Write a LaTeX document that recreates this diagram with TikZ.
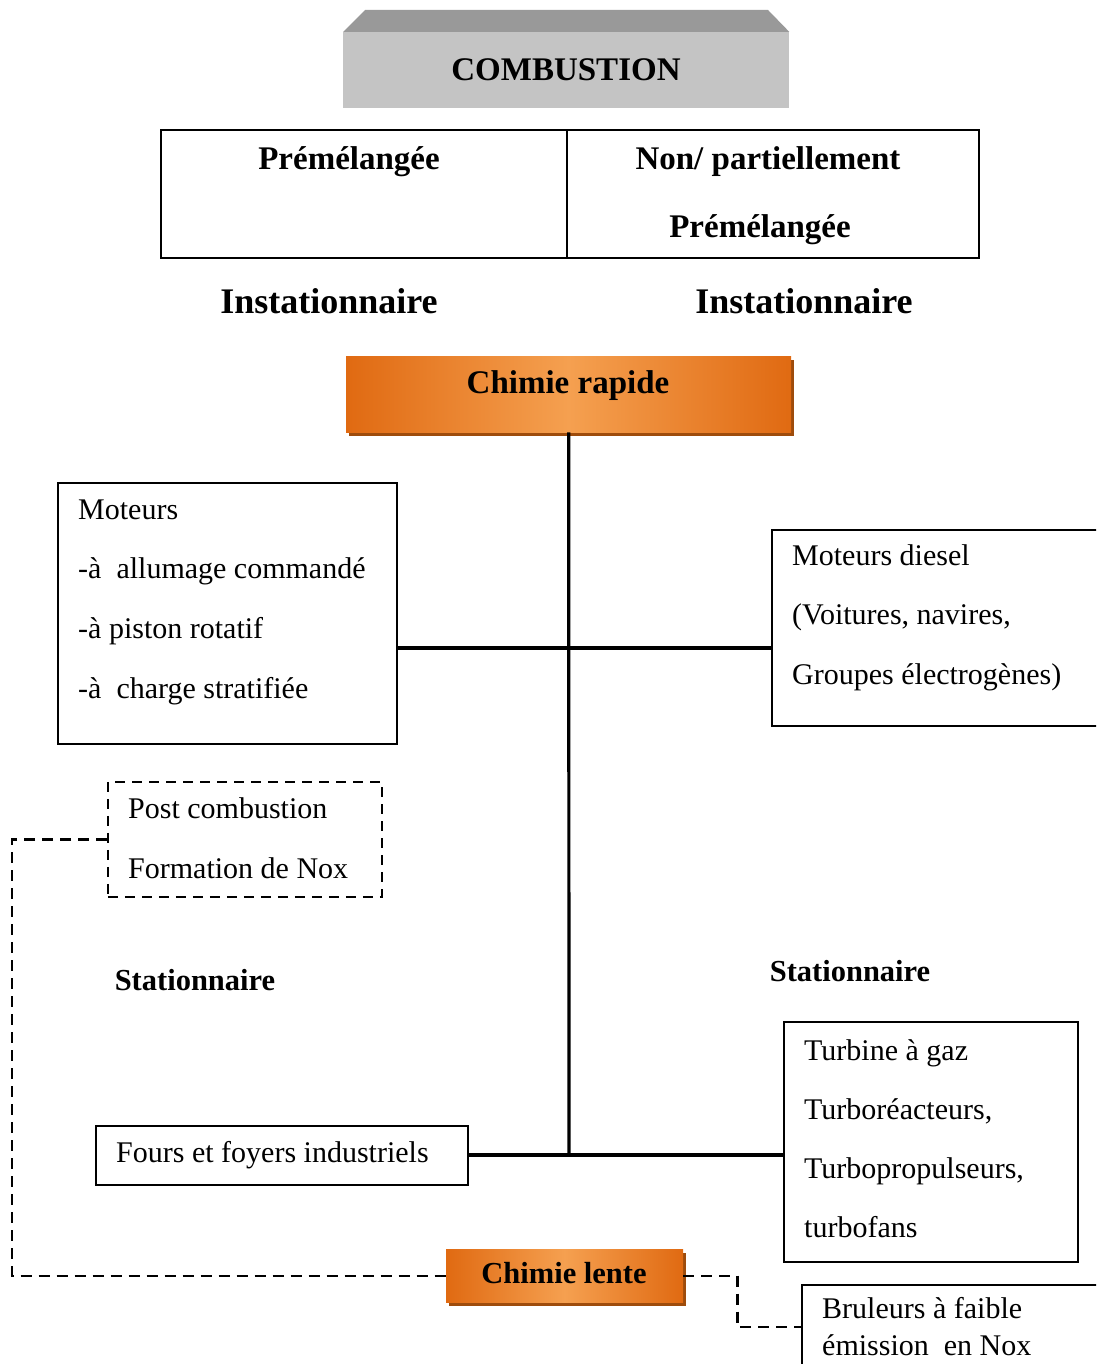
\documentclass[tikz,border=0pt]{standalone}
\usepackage{fontspec}
\setmainfont{Liberation Serif}
\usetikzlibrary{shadows}

\definecolor{combfront}{HTML}{C4C4C4}
\definecolor{combtop}{HTML}{999999}
\definecolor{ord}{HTML}{E06A12}
\definecolor{orl}{HTML}{F5A050}
\definecolor{orshadow}{HTML}{9E4C0C}

\tikzset{
	box/.style={draw=black,line width=1.6pt,anchor=north west,inner sep=0pt},
	dbox/.style={box,dash pattern=on 10pt off 7pt},
	txt/.style={anchor=base west,inner sep=0pt,font=\fontsize{30}{36}\selectfont},
	head/.style={anchor=base,inner sep=0pt,font=\bfseries\fontsize{33}{40}\selectfont},
	chimie/.style={anchor=north west,inner sep=0pt,left color=ord,right color=ord,middle color=orl,
		drop shadow={shadow xshift=3pt,shadow yshift=-4pt,fill=orshadow,opacity=1}},
	link/.style={line width=3.2pt},
	dlink/.style={line width=2.4pt,dash pattern=on 11pt off 7pt},
}

\begin{document}
\begin{tikzpicture}[x=1pt,y=-1pt]
			\useasboundingbox (0,0) rectangle (1096,1364);
			\clip (0,0) rectangle (1096,1364);
			% titre
			\node[anchor=north west,inner sep=0pt,fill=combfront,minimum width=446pt,minimum height=76pt] (comb) at (343,32) {};
			\fill[combtop] (comb.north west) -- ++(22,-22) -- ++(403,0) -- (comb.north east) -- cycle;
			\node[head] (combT) at (566,81) {COMBUSTION};
			% premelange / non premelange
			\node[box,minimum width=406pt,minimum height=128pt] (pre) at (160,129) {};
			\node[box,minimum width=412pt,minimum height=128pt] (nonpre) at (566,129) {};
			\node[head] (preT) at (349,170) {Prémélangée};
			\node[head] (nonT1) at (768,170) {Non/ partiellement};
			\node[head] (nonT2) at (760,238) {Prémélangée};
			\node[head,font=\bfseries\fontsize{36}{43}\selectfont] (inst1) at (329,313) {Instationnaire};
			\node[head,font=\bfseries\fontsize{36}{43}\selectfont] (inst2) at (804,313) {Instationnaire};
			% chimie rapide
			\node[chimie,minimum width=445pt,minimum height=76pt] (rapide) at (346,356) {};
			\node[head] (rapideT) at (568,393) {Chimie rapide};
			% boites
			\node[box,minimum width=339pt,minimum height=261pt] (moteurs) at (57,482) {};
			\foreach \t [count=\i] in {Moteurs,-à~ allumage commandé,-à piston rotatif,-à~ charge stratifiée}
				\node[txt] (mot\i) at (78,{519+59.7*(\i-1)}) {\t};
			\node[box,minimum width=340pt,minimum height=196pt] (diesel) at (771,529) {};
			\foreach \t [count=\i] in {Moteurs diesel,{(Voitures, navires,},Groupes électrogènes)}
				\node[txt] (dies\i) at (792,{565+59.5*(\i-1)}) {\t};
			\node[dbox,minimum width=274pt,minimum height=115pt] (post) at (107,781) {};
			\node[txt] (post1) at (128,818) {Post combustion};
			\node[txt] (post2) at (128,878) {Formation de Nox};
			\node[head,font=\bfseries\fontsize{30.5}{36}\selectfont] (stat1) at (195,990) {Stationnaire};
			\node[head,font=\bfseries\fontsize{30.5}{36}\selectfont] (stat2) at (850,981) {Stationnaire};
			\node[box,minimum width=372pt,minimum height=59pt] (fours) at (95,1125) {};
			\node[txt] (foursT) at (116,1162) {Fours et foyers industriels};
			\node[box,minimum width=294pt,minimum height=240pt] (turbine) at (783,1021) {};
			\foreach \t [count=\i] in {Turbine à gaz,{Turboréacteurs,},{Turbopropulseurs,},turbofans}
				\node[txt] (turb\i) at (804,{1060+59.3*(\i-1)}) {\t};
			% chimie lente
			\node[chimie,minimum width=237pt,minimum height=53pt] (lente) at (446,1249) {};
			\node[head,font=\bfseries\fontsize{30.5}{36}\selectfont] (lenteT) at (564,1283) {Chimie lente};
			\node[box,minimum width=300pt,minimum height=84pt] (brul) at (801,1284) {};
			\node[txt] (brul1) at (822,1318) {Bruleurs à faible};
			\node[txt] (brul2) at (822,1355) {émission~ en Nox};
			% liaisons
			\coordinate (jmid) at (569,648);
			\coordinate (jbot) at (569,1155);
			\draw[link] (rapide.south) -- (jbot);
			\draw[link] (moteurs.east |- jmid) -- (diesel.west |- jmid);
			\draw[link] (fours.east |- jbot) -- (turbine.west |- jbot);
			\draw[dlink] (post.west) -- ++(-95,0) |- (lente.west);
			\draw[dlink] (lente.east) -- ++(54,0) |- (brul.west);
		\end{tikzpicture}
\end{document}
